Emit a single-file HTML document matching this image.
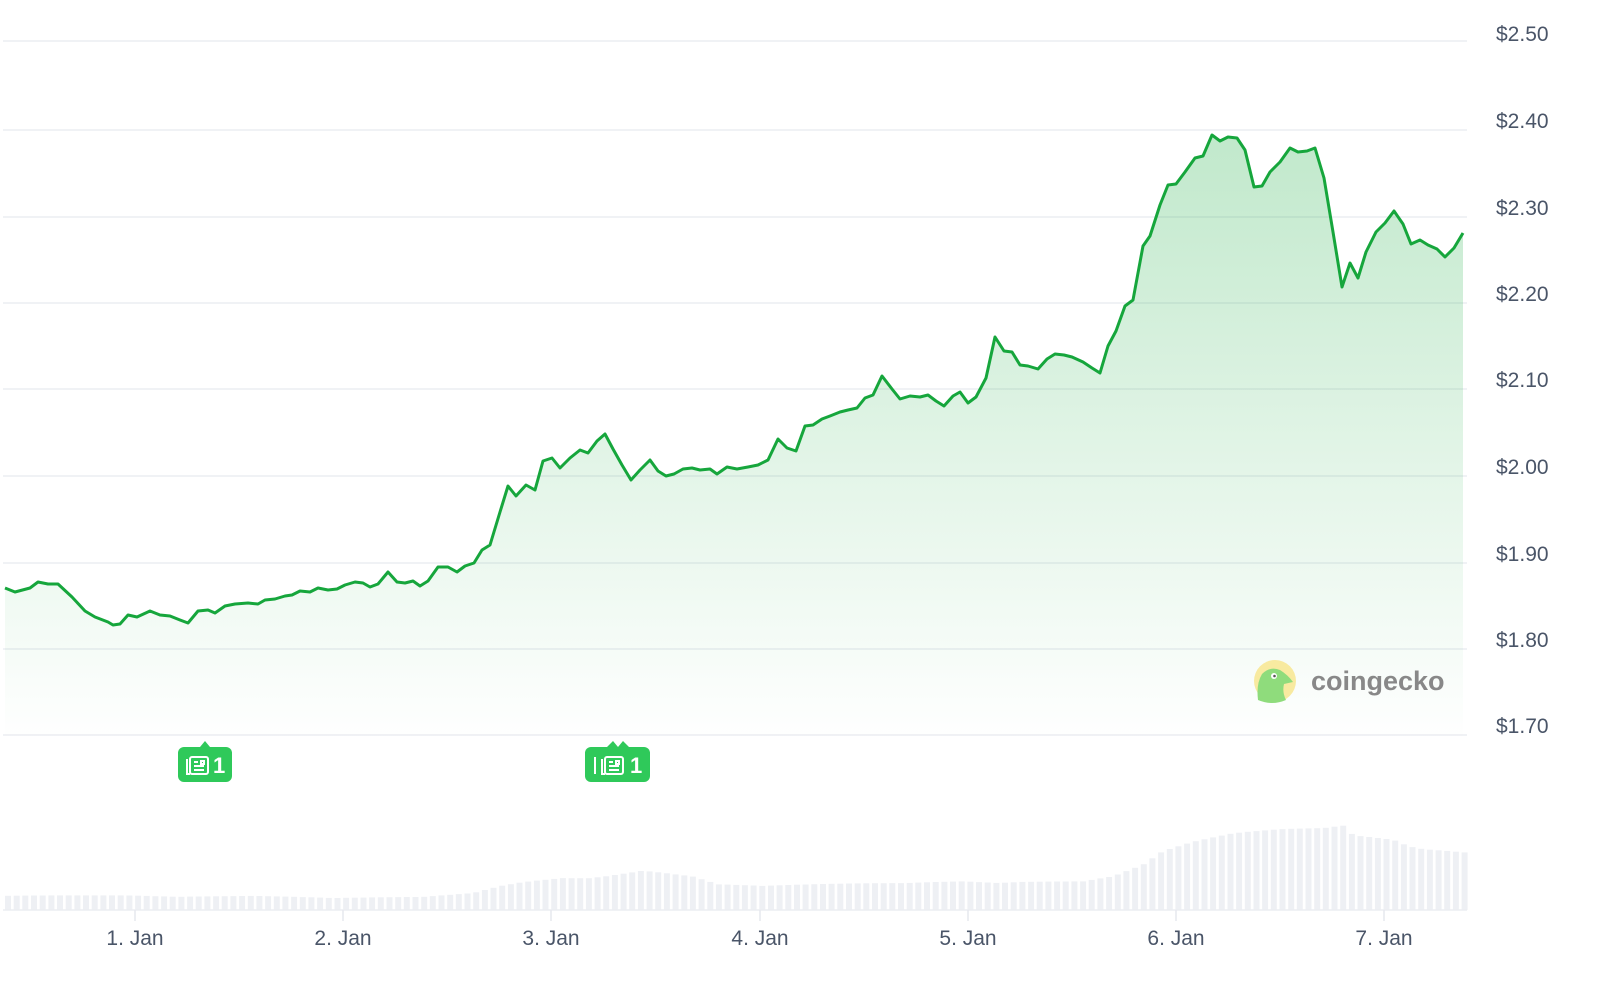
<!DOCTYPE html>
<html><head><meta charset="utf-8"><style>
html,body{margin:0;padding:0;background:#fff;width:1600px;height:981px;overflow:hidden}
svg{display:block;font-family:"Liberation Sans",sans-serif}
</style></head><body>
<svg id="s" width="1600" height="981" viewBox="0 0 1600 981">
<defs>
<linearGradient id="grad" x1="0" x2="0" y1="130" y2="740" gradientUnits="userSpaceOnUse">
<stop offset="0" stop-color="#1fae45" stop-opacity="0.28"/>
<stop offset="1" stop-color="#1fae45" stop-opacity="0"/>
</linearGradient>
</defs>
<g stroke="#ebedf2" stroke-width="1.5">
<line x1="3" x2="1467" y1="41" y2="41"/><line x1="3" x2="1467" y1="130" y2="130"/>
<line x1="3" x2="1467" y1="217" y2="217"/><line x1="3" x2="1467" y1="303" y2="303"/>
<line x1="3" x2="1467" y1="389" y2="389"/><line x1="3" x2="1467" y1="476" y2="476"/>
<line x1="3" x2="1467" y1="563" y2="563"/><line x1="3" x2="1467" y1="649" y2="649"/>
<line x1="3" x2="1467" y1="735" y2="735"/>
</g>
<g fill="#4a5568" font-size="21">
<text x="1496" y="41">$2.50</text><text x="1496" y="128">$2.40</text>
<text x="1496" y="215">$2.30</text><text x="1496" y="301">$2.20</text>
<text x="1496" y="387">$2.10</text><text x="1496" y="474">$2.00</text>
<text x="1496" y="561">$1.90</text><text x="1496" y="647">$1.80</text>
<text x="1496" y="733">$1.70</text>
</g>
<g id="vol" fill="#eef0f4"></g>
<line x1="3" x2="1467" y1="910" y2="910" stroke="#eceef2" stroke-width="1.5"/>
<g stroke="#e6e8ee" stroke-width="1.5">
<line x1="135" x2="135" y1="910" y2="921"/><line x1="343" x2="343" y1="910" y2="921"/>
<line x1="551" x2="551" y1="910" y2="921"/><line x1="760" x2="760" y1="910" y2="921"/>
<line x1="968" x2="968" y1="910" y2="921"/><line x1="1176" x2="1176" y1="910" y2="921"/>
<line x1="1384" x2="1384" y1="910" y2="921"/>
</g>
<g fill="#4a5568" font-size="21" text-anchor="middle">
<text x="135" y="945">1. Jan</text><text x="343" y="945">2. Jan</text>
<text x="551" y="945">3. Jan</text><text x="760" y="945">4. Jan</text>
<text x="968" y="945">5. Jan</text><text x="1176" y="945">6. Jan</text>
<text x="1384" y="945">7. Jan</text>
</g>
<path id="area" fill="url(#grad)"/>
<polyline id="line" fill="none" stroke="#16a63c" stroke-width="3" stroke-linejoin="round"/>
<circle cx="1275" cy="681" r="21" fill="#f8eaa0"/>
<path d="M1258 700 Q1256 684 1262 674 Q1270 666 1280 670 Q1288 675 1293 682 L1284 684 Q1282 692 1286 700 Q1272 706 1258 700Z" fill="#8fdc7c"/>
<circle cx="1274" cy="676" r="3" fill="#fff"/><circle cx="1274.5" cy="676" r="1.3" fill="#555"/>
<text x="1311" y="690" font-size="27" font-weight="bold" fill="#888">coingecko</text>
<g fill="#2fc95a">
<path d="M200 747 L205 741 L210 747Z"/>
<rect x="178" y="747" width="54" height="35" rx="6"/>
<path d="M607 747 L613 741 L618 747 L623 741 L629 747Z"/>
<rect x="585" y="747" width="65" height="35" rx="6"/>
</g>
<g fill="none" stroke="#fff" stroke-width="2">
<rect x="190" y="757" width="18" height="17" rx="2"/><path d="M187 759 V774 H190"/>
<path d="M194 762h4M194 766h10M194 770h10M201 761h3v3h-3z"/>
<rect x="605" y="757" width="18" height="17" rx="2"/><path d="M602 759 V774 H605"/>
<path d="M609 762h4M609 766h10M609 770h10M616 761h3v3h-3z"/>
<path d="M595 757 V774"/>
</g>
<g fill="#fff" font-size="22" font-weight="bold"><text x="213" y="773">1</text><text x="630" y="773">1</text></g>
</svg>
<script>
var p=[[5,588],[15,592],[30,588],[38,582],[48,584],[58,584],[72,597],[85,611],[95,617],[108,622],[113,625],[120,624],[128,615],[137,617],[150,611],[160,615],[170,616],[180,620],[188,623],[198,611],[208,610],[215,613],[225,606],[235,604],[248,603],[258,604],[265,600],[275,599],[285,596],[292,595],[300,591],[310,592],[318,588],[328,590],[337,589],[345,585],[355,582],[363,583],[370,587],[378,584],[388,572],[397,582],[405,583],[413,581],[420,586],[428,581],[438,567],[448,567],[457,572],[465,566],[474,563],[482,550],[490,545],[500,512],[508,486],[516,496],[526,485],[535,490],[543,461],[552,458],[560,468],[570,458],[580,450],[588,453],[597,441],[605,434],[613,449],[622,465],[631,480],[640,470],[650,460],[658,471],[666,476],[674,474],[683,469],[692,468],[700,470],[710,469],[717,474],[727,467],[737,469],[748,467],[758,465],[768,460],[778,439],[787,448],[796,451],[805,426],[813,425],[822,419],[830,416],[840,412],[848,410],[857,408],[865,398],[873,395],[882,376],[892,389],[900,399],[910,396],[920,397],[928,395],[936,401],[944,406],[953,396],[960,392],[968,403],[976,397],[986,378],[995,337],[1004,351],[1012,352],[1020,365],[1028,366],[1038,369],[1047,359],[1055,354],[1064,355],[1072,357],[1083,362],[1092,368],[1100,373],[1108,346],[1116,331],[1125,306],[1133,300],[1143,246],[1150,236],[1160,205],[1168,185],[1176,184],[1185,172],[1195,158],[1203,156],[1212,135],[1220,141],[1228,137],[1237,138],[1245,150],[1254,187],[1262,186],[1270,172],[1280,162],[1290,148],[1298,152],[1307,151],[1315,148],[1324,178],[1333,232],[1342,287],[1350,263],[1358,278],[1366,252],[1376,232],[1385,223],[1394,211],[1403,224],[1411,244],[1420,240],[1428,245],[1437,249],[1445,257],[1454,248],[1463,233]];
var s=p.map(function(a){return a.join(',')}).join(' ');
document.getElementById('line').setAttribute('points',s);
document.getElementById('area').setAttribute('d','M5,740 L'+s.split(' ').join(' L')+' L1463,740Z');
var v=[[5,13],[130,15],[250,14],[330,11],[420,12],[470,16],[500,24],[520,28],[560,34],[600,36],[640,40],[690,32],[715,24],[760,22],[900,26],[960,30],[1020,30],[1080,28],[1110,32],[1140,42],[1160,54],[1190,62],[1230,70],[1280,76],[1320,80],[1342,85],[1350,76],[1390,76],[1420,66],[1465,58]];
function h(x){for(var i=0;i<v.length-1;i++){if(x>=v[i][0]&&x<=v[i+1][0]){var t=(x-v[i][0])/(v[i+1][0]-v[i][0]);return v[i][1]+t*(v[i+1][1]-v[i][1]);}}return v[v.length-1][1];}
var gv=document.getElementById('vol'),o='';
for(var x=5;x<1464;x+=8.67){var hh=h(x)*(0.9+0.2*Math.abs(Math.sin(x*0.37)));o+='<rect x="'+x.toFixed(1)+'" y="'+(910-hh).toFixed(1)+'" width="6" height="'+hh.toFixed(1)+'"/>';}
gv.innerHTML=o;
</script>
</body></html>
